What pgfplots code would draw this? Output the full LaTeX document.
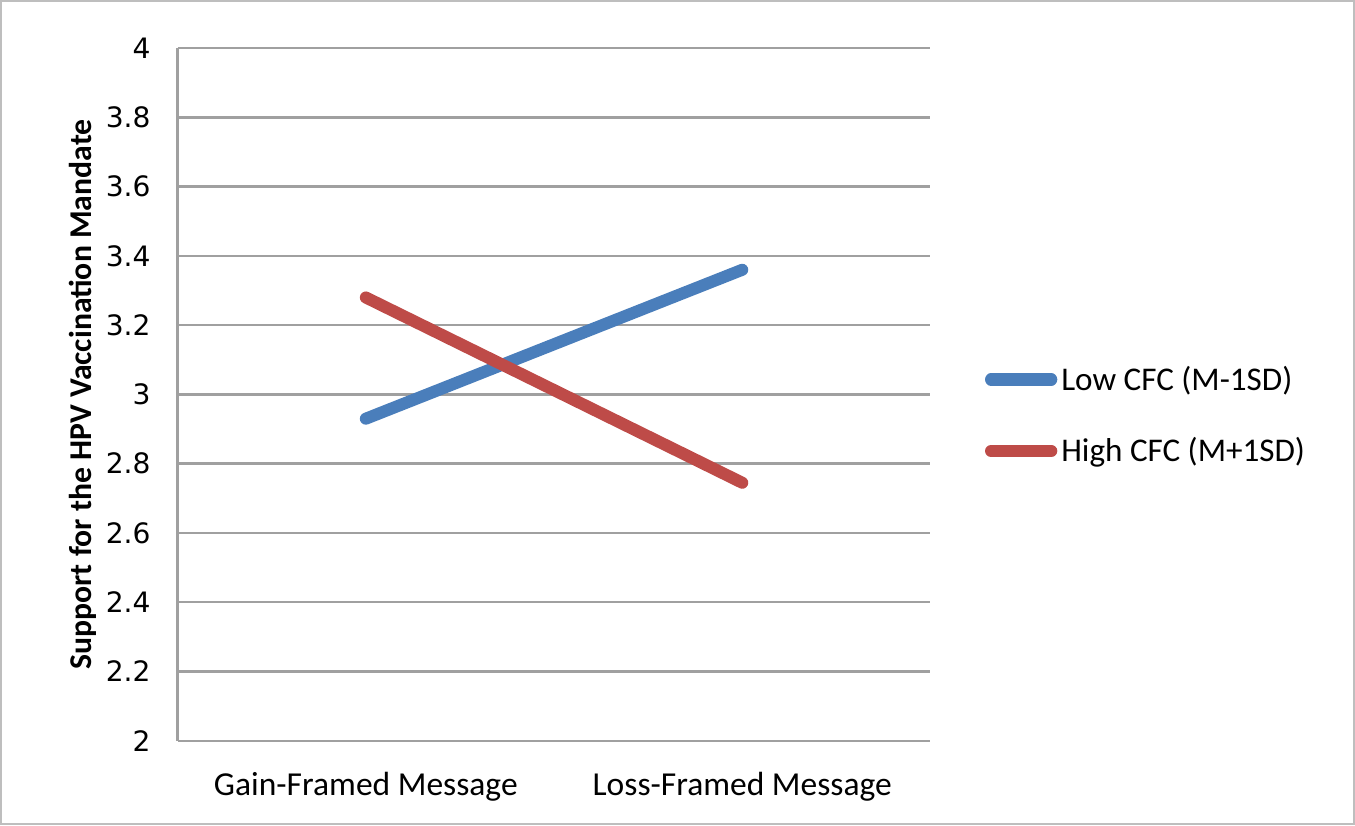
\documentclass[border=0pt]{standalone}
\usepackage{fontspec}
\setmainfont{Carlito}
\newfontfamily\dejavu{DejaVu Sans}
\usepackage{pgfplots}
\pgfplotsset{compat=1.18}
\definecolor{gridgray}{RGB}{160,160,160}
\definecolor{framegray}{RGB}{190,190,190}
\definecolor{lowblue}{RGB}{74,126,187}
\definecolor{highred}{RGB}{190,75,72}
\begin{document}
\begin{tikzpicture}
\begin{axis}[
  scale only axis, width=375pt, height=345pt,
  xmin=-0.5, xmax=1.5, ymin=2, ymax=4,
  ytick={2,2.2,2.4,2.6,2.8,3,3.2,3.4,3.6,3.8,4},
  xtick={0,1}, xticklabels={Gain-Framed Message, Loss-Framed Message},
  axis x line*=bottom, axis y line*=left,
  axis line style={draw=gridgray, line width=1.2pt},
  ymajorgrids, grid style={gridgray, line width=1.2pt},
  major tick length=0pt, tick style={draw=none},
  /pgf/number format/assume math mode=true,
  yticklabel style={font=\dejavu\fontsize{14}{14}\selectfont, xshift=-10pt},
  xticklabel style={font=\fontsize{16.7}{16.7}\selectfont, yshift=-12pt},
  ylabel={Support for the HPV Vaccination Mandate},
  ylabel style={font=\bfseries\fontsize{15.8}{15.8}\selectfont, yshift=-2pt},
  legend style={draw=none, fill=none, at={(1,0.47)}, anchor=west, xshift=27pt,
    font=\fontsize{16.5}{16.5}\selectfont, row sep=18pt, inner sep=0pt,
    cells={anchor=west}},
  legend image code/.code={\draw[#1, line width=6pt, line cap=round] (0pt,0pt) -- (30pt,0pt);},
]
\addplot[lowblue, line width=6pt, line cap=round] coordinates {(0,2.93) (1,3.36)};
\addlegendentry{Low CFC (M-1SD)}
\addplot[highred, line width=6pt, line cap=round] coordinates {(0,3.28) (1,2.745)};
\addlegendentry{High CFC (M+1SD)}
\end{axis}
\draw[framegray, line width=1pt] ([shift={(-88pt,-41.5pt)}]current axis.south west) rectangle ([shift={(211pt,23.5pt)}]current axis.north east);
\end{tikzpicture}
\end{document}
